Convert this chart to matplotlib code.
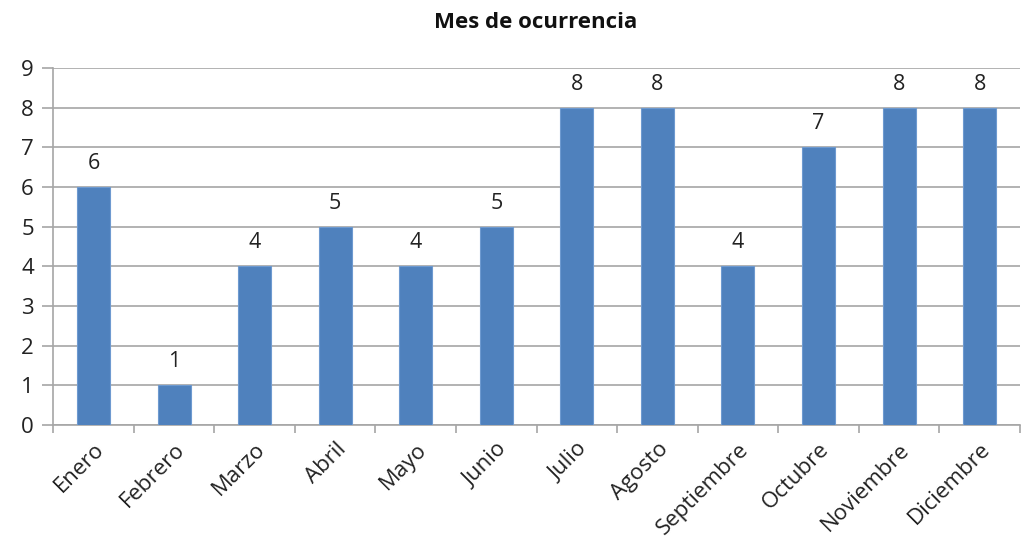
import numpy as np
import matplotlib.pyplot as plt

plt.rcParams['font.family'] = ['Open Sans', 'DejaVu Sans']

meses = ['Enero', 'Febrero', 'Marzo', 'Abril', 'Mayo', 'Junio', 'Julio',
         'Agosto', 'Septiembre', 'Octubre', 'Noviembre', 'Diciembre']
casos = [6, 1, 4, 5, 4, 5, 8, 8, 4, 7, 8, 8]

fig = plt.figure(figsize=(10.25, 5.46), dpi=100)
ax = fig.add_axes([0.052, 0.2216, 0.943, 0.6539])

x = np.arange(len(meses))
bars = ax.bar(x, casos, width=0.41, color='#4F81BD', edgecolor='#6E9AD0',
              linewidth=0.8, zorder=3)
for xi, v in zip(x, casos):
    ax.text(xi, v + 0.33, str(v), ha='center', va='bottom', fontsize=15.5,
            color='#222222')

ax.set_xlim(-0.5, len(meses) - 0.5)
ax.set_ylim(0, 9)
ax.set_yticks(range(10))
ax.yaxis.grid(True, color='#A6A6A6', linewidth=1.2, zorder=0)
ax.tick_params(axis='y', length=8, width=1.2, color='#A6A6A6', labelsize=16,
               pad=6, labelcolor='#222222')

ax.set_xticks(x)
ax.set_xticklabels(meses, rotation=45, ha='right', rotation_mode='anchor',
                   fontsize=16, color='#222222')
ax.set_xticks(np.arange(-0.5, len(meses)), minor=True)
ax.tick_params(axis='x', which='major', length=0, pad=10)
ax.tick_params(axis='x', which='minor', length=6, width=1.2, color='#A6A6A6')

for s in ['top', 'right']:
    ax.spines[s].set_visible(False)
for s in ['left', 'bottom']:
    ax.spines[s].set_color('#A6A6A6')
    ax.spines[s].set_linewidth(1.2)

fig.text(0.523, 0.958, 'Mes de ocurrencia', ha='center', va='center',
         fontsize=16, fontweight='bold', color='#111111')

fig.savefig('out.png', dpi=100)
